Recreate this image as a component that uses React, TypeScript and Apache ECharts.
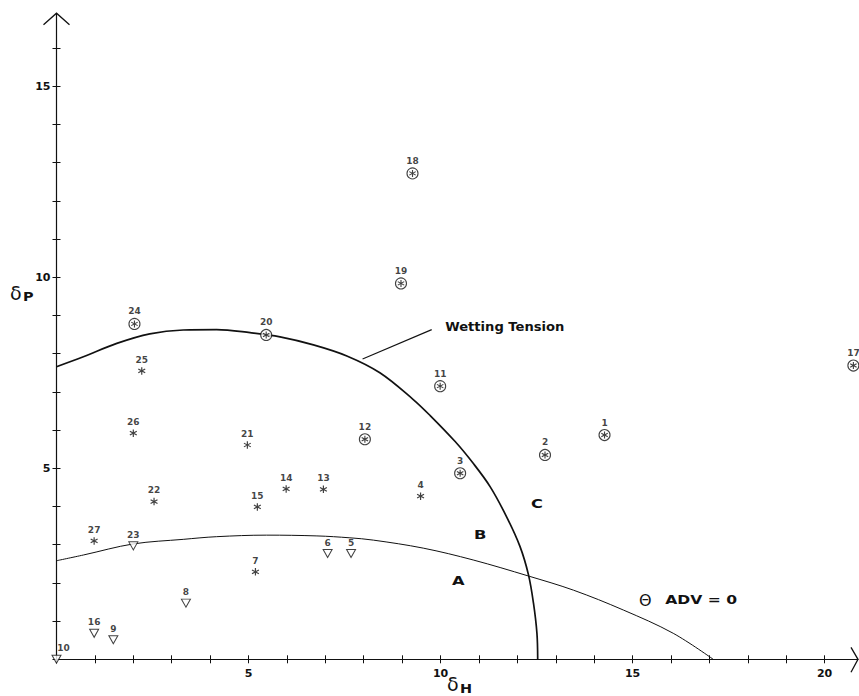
import { useEffect, useRef } from "react";
import * as echarts from "echarts";

// Solvents drawn with a circled asterisk
const circledIds = [1, 2, 3, 11, 12, 17, 18, 19, 20, 24];
const circledX = [14.27, 12.72, 10.51, 9.99, 8.03, 20.75, 9.27, 8.97, 5.46, 2.03];
const circledY = [5.87, 5.35, 4.87, 7.15, 5.76, 7.69, 12.72, 9.84, 8.49, 8.78];

// Solvents drawn with a plain asterisk
const starIds = [4, 7, 13, 14, 15, 21, 22, 25, 26, 27];
const starX = [9.48, 5.18, 6.95, 5.98, 5.23, 4.97, 2.54, 2.22, 2.0, 0.98];
const starY = [4.27, 2.29, 4.45, 4.46, 3.99, 5.61, 4.13, 7.55, 5.92, 3.1];

// Solvents drawn with an open triangle
const triIds = [5, 6, 8, 9, 10, 16, 23];
const triX = [7.67, 7.06, 3.37, 1.48, 0, 0.98, 2.0];
const triY = [2.77, 2.77, 1.47, 0.51, 0, 0.68, 2.97];

// Wetting tension boundary
const wettingX = [0, 0.7, 1.57, 2.43, 3.3, 4.17, 5.04, 5.82, 6.69, 7.56, 8.42, 9.29, 9.73, 10.38, 10.85, 11.29, 11.72, 12.07, 12.29, 12.42, 12.51, 12.53];
const wettingY = [7.66, 7.92, 8.27, 8.52, 8.62, 8.63, 8.55, 8.44, 8.23, 7.94, 7.5, 6.8, 6.38, 5.7, 5.13, 4.52, 3.73, 2.95, 2.21, 1.47, 0.68, 0];

// Advancing contact angle = 0 boundary
const advX = [0, 0.7, 2.0, 3.3, 4.17, 5.47, 6.78, 7.64, 8.25, 9.55, 10.85, 12.29, 13.46, 14.76, 16.06, 17.1];
const advY = [2.58, 2.73, 3.02, 3.14, 3.21, 3.25, 3.23, 3.18, 3.12, 2.91, 2.6, 2.18, 1.81, 1.29, 0.68, 0];

// Leader line from the curve to its caption
const leaderX = [7.97, 9.77];
const leaderY = [7.86, 8.63];

// Axis ticks and labels
const xTicks = [0, 1, 2, 3, 4, 5, 6, 7, 8, 9, 10, 11, 12, 13, 14, 15, 16, 17, 18, 19, 20];
const xLabels = [5, 10, 15, 20];
const yTicks = [0, 1, 2, 3, 4, 5, 6, 7, 8, 9, 10, 11, 12, 13, 14, 15, 16];
const yLabels = [5, 10, 15];

const ASTERISK =
  "path://M8.5,0L11.5,0L11.5,20L8.5,20Z M2.09,3.7L19.41,13.7L17.91,16.3L0.59,6.3Z M0.59,13.7L17.91,3.7L19.41,6.3L2.09,16.3Z";

const INK = "#111";
const LABEL_FONT = "DejaVu Sans";

const pts = (xs: number[], ys: number[], ids?: number[]) =>
  xs.map((x, i) => (ids ? [x, ys[i], ids[i]] : [x, ys[i]]));

const numLabel = (distance: number) => ({
  show: true,
  position: "top" as const,
  distance,
  formatter: (p: any) => String(p.value[2]),
  color: INK,
  fontFamily: LABEL_FONT,
  fontWeight: "bold" as const,
  fontSize: 9,
});

export default function App() {
  const ref = useRef<HTMLDivElement>(null);

  useEffect(() => {
    if (!ref.current) return;
    const chart = echarts.init(ref.current, null, { renderer: "svg" });

    const axisCommon = {
      type: "value" as const,
      min: 0,
      splitLine: { show: false },
    };

    chart.setOption({
      animation: false,
      backgroundColor: "#fff",
      grid: { left: 56.5, right: 1, top: 13.7, bottom: 36.7, containLabel: false },
      xAxis: [
        {
          ...axisCommon,
          max: 20.87,
          position: "bottom",
          axisLine: { onZero: false, lineStyle: { color: INK, width: 1.2 } },
          axisTick: { show: true, inside: false, length: 4, customValues: xTicks, lineStyle: { color: INK } },
          axisLabel: {
            customValues: xLabels,
            margin: 9,
            color: INK,
            fontFamily: LABEL_FONT,
            fontWeight: "bold",
            fontSize: 11,
          },
        },
        {
          ...axisCommon,
          max: 20.87,
          position: "bottom",
          axisLine: { show: false, onZero: false },
          axisTick: { show: true, inside: true, length: 4, customValues: xTicks, lineStyle: { color: INK } },
          axisLabel: { show: false },
        },
      ],
      yAxis: [
        {
          ...axisCommon,
          max: 16.9,
          position: "left",
          axisLine: { show: true, onZero: false, lineStyle: { color: INK, width: 1.2 } },
          axisTick: { show: true, inside: false, length: 4, customValues: yTicks, lineStyle: { color: INK } },
          axisLabel: {
            customValues: yLabels,
            margin: 6,
            color: INK,
            fontFamily: LABEL_FONT,
            fontWeight: "bold",
            fontSize: 11,
          },
        },
        {
          ...axisCommon,
          max: 16.9,
          position: "left",
          axisLine: { show: false, onZero: false },
          axisTick: { show: true, inside: true, length: 4, customValues: yTicks, lineStyle: { color: INK } },
          axisLabel: { show: false },
        },
      ],
      series: [
        {
          type: "line",
          data: pts(wettingX, wettingY),
          smooth: 0.35,
          symbol: "none",
          lineStyle: { color: INK, width: 1.7 },
          z: 2,
        },
        {
          type: "line",
          data: pts(advX, advY),
          smooth: 0.35,
          symbol: "none",
          lineStyle: { color: INK, width: 1 },
          z: 2,
        },
        {
          type: "line",
          data: pts(leaderX, leaderY),
          symbol: "none",
          lineStyle: { color: INK, width: 1.1 },
          z: 2,
        },
        {
          type: "scatter",
          data: pts(circledX, circledY, circledIds),
          symbol: "circle",
          symbolSize: 11,
          itemStyle: { color: "#fff", borderColor: INK, borderWidth: 1.1 },
          label: numLabel(2),
          z: 3,
        },
        {
          type: "scatter",
          data: pts(circledX, circledY),
          symbol: ASTERISK,
          symbolSize: 7,
          itemStyle: { color: INK },
          z: 4,
        },
        {
          type: "scatter",
          data: pts(starX, starY, starIds),
          symbol: ASTERISK,
          symbolSize: 7.5,
          itemStyle: { color: INK },
          label: numLabel(3),
          z: 4,
        },
        {
          type: "scatter",
          data: pts(triX, triY, triIds),
          symbol: "triangle",
          symbolRotate: 180,
          symbolSize: [9, 8],
          itemStyle: { color: "#fff", borderColor: INK, borderWidth: 1 },
          label: numLabel(2),
          labelLayout: (p: any) => (p.dataIndex === 4 ? { dx: 7, dy: 0 } : {}),
          z: 4,
        },
      ],
    });

    const px = (x: number, y: number) =>
      chart.convertToPixel({ gridIndex: 0 } as any, [x, y]) as number[];

    const wt = px(10.12, 8.72);
    const a = px(10.46, 2.08);
    const b = px(11.03, 3.27);
    const c = px(12.51, 4.1);
    const th = px(15.33, 1.55);
    const adv = px(15.85, 1.55);
    const origin = px(0, 0);
    const top = px(0, 16.9);
    const right = px(20.87, 0);

    const letter = (pos: number[], text: string) => ({
      type: "text",
      x: pos[0],
      y: pos[1],
      scaleX: 1.25,
      style: {
        text,
        font: `bold 13px "${LABEL_FONT}"`,
        fill: INK,
        align: "center",
        verticalAlign: "middle",
      },
    });

    chart.setOption({
      graphic: [
        {
          type: "text",
          x: wt[0],
          y: wt[1],
          scaleX: 1.05,
          style: {
            text: "Wetting Tension",
            font: `bold 12.5px "${LABEL_FONT}"`,
            fill: INK,
            align: "left",
            verticalAlign: "middle",
          },
        },
        letter(a, "A"),
        letter(b, "B"),
        letter(c, "C"),
        {
          type: "text",
          x: th[0],
          y: th[1],
          style: {
            text: "Θ",
            font: `16px "${LABEL_FONT}"`,
            fill: INK,
            align: "center",
            verticalAlign: "middle",
          },
        },
        {
          type: "text",
          x: adv[0],
          y: adv[1],
          scaleX: 1.3,
          style: {
            text: "ADV = 0",
            font: `bold 12px "${LABEL_FONT}"`,
            fill: INK,
            align: "left",
            verticalAlign: "middle",
          },
        },
        // axis titles
        {
          type: "text",
          x: 10,
          y: 293,
          style: { text: "δ", font: `19px "${LABEL_FONT}"`, fill: INK, align: "left", verticalAlign: "middle" },
        },
        {
          type: "text",
          x: 23,
          y: 297,
          scaleX: 1.2,
          style: { text: "P", font: `bold 12px "${LABEL_FONT}"`, fill: INK, align: "left", verticalAlign: "middle" },
        },
        {
          type: "text",
          x: 447,
          y: 684,
          style: { text: "δ", font: `19px "${LABEL_FONT}"`, fill: INK, align: "left", verticalAlign: "middle" },
        },
        {
          type: "text",
          x: 460,
          y: 689,
          scaleX: 1.2,
          style: { text: "H", font: `bold 12px "${LABEL_FONT}"`, fill: INK, align: "left", verticalAlign: "middle" },
        },
        // open arrow heads at the axis ends
        {
          type: "polyline",
          shape: { points: [[top[0] - 13, top[1] + 11], [top[0], top[1] - 0.5], [top[0] + 13, top[1] + 11]] },
          style: { stroke: INK, lineWidth: 1.3, fill: "none" },
        },
        {
          type: "polyline",
          shape: { points: [[right[0] - 7, origin[1] - 12], [right[0], origin[1]], [right[0] - 7, origin[1] + 13]] },
          style: { stroke: INK, lineWidth: 1.3, fill: "none" },
        },
      ],
    });

    return () => chart.dispose();
  }, []);

  return (
    <div
      ref={ref}
      style={{ position: "fixed", left: 0, top: 0, width: 859, height: 696, background: "#fff" }}
    />
  );
}
